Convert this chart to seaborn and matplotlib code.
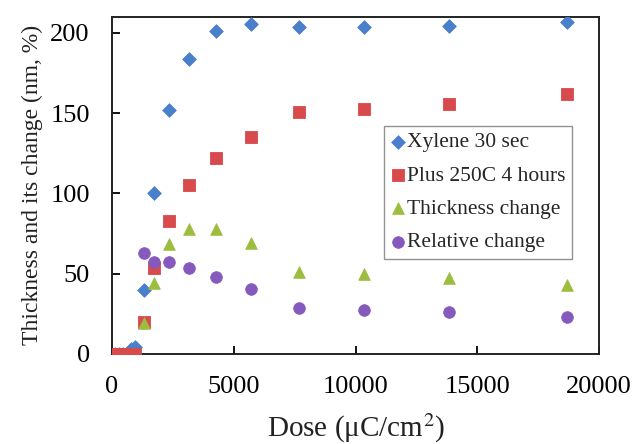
import matplotlib
matplotlib.use("Agg")
import matplotlib.pyplot as plt
import numpy as np
import pandas as pd
import seaborn as sns

# doses (uC/cm2)
dose_low = [110, 280, 450, 620, 790, 960]
dose = [1300, 1730, 2345, 3150, 4260, 5700, 7660, 10330, 13850, 18700]

# Xylene 30 sec (nm)
xylene_low = [0, 0, 0, 0, 3.3, 4.4]
xylene = [39.5, 100, 152, 184, 201, 205.5, 203.5, 203.5, 204.5, 206.5]

# Plus 250C 4 hours (nm)
baked_low = [0, 0, 0, 0, 0, 0]
baked = [20, 53.5, 83, 105.5, 122, 135, 151, 152.5, 156, 162]

# Thickness change (nm)
thick_change = [19.5, 44, 68.5, 78, 78, 69, 51, 50, 47, 43]

# Relative change (%)
rel_change = [63, 57, 57, 53.5, 48, 40.5, 28.7, 27.5, 26, 23]

series = [
    ("Xylene 30 sec", dose_low + dose, xylene_low + xylene, "D", "#4A7FCC", 48),
    ("Plus 250C 4 hours", dose_low + dose, baked_low + baked, "s", "#D94A4C", 70),
    ("Thickness change", dose, thick_change, "^", "#9DBD3E", 70),
    ("Relative change", dose, rel_change, "o", "#8659BD", 70),
]

sns.set_theme(style="white")
plt.rcParams["font.family"] = ["Liberation Serif", "DejaVu Serif"]
plt.rcParams["mathtext.fontset"] = "stix"

fig = plt.figure(figsize=(6.4, 4.44), dpi=100)
ax = fig.add_axes([0.175, 0.203, 0.761, 0.759])

for name, xs, ys, mk, col, s in series:
    df = pd.DataFrame({"x": xs, "y": ys})
    sns.scatterplot(data=df, x="x", y="y", marker=mk, color=col, s=s,
                    edgecolor=col, linewidth=0.6, ax=ax, label=name, zorder=3)

ax.set_xlim(0, 20000)
ax.set_ylim(0, 210)
ax.set_xticks([0, 5000, 10000, 15000, 20000])
ax.set_yticks([0, 50, 100, 150, 200])
ax.tick_params(direction="in", length=6, width=1.3, labelsize=19, colors="black",
               pad=16, top=False, right=False, left=True, bottom=True)
for sp in ax.spines.values():
    sp.set_color("#222222")
    sp.set_linewidth(1.4)

ax.set_xlabel("Dose (\u03bcC/cm$^2$)", fontsize=21, color="#222222", labelpad=10)
ax.set_ylabel("Thickness and its change (nm, %)", fontsize=17, color="#222222", labelpad=5)

leg = ax.legend(loc="upper left", bbox_to_anchor=(0.558, 0.677), fontsize=15.5,
                frameon=True, fancybox=False, handletextpad=0.1, borderpad=0.3,
                borderaxespad=0, labelspacing=0.62, handlelength=0.7,
                handleheight=0.7)
leg.get_frame().set_edgecolor("#777777")
leg.get_frame().set_linewidth(1.0)

fig.savefig("out.png", dpi=100)
